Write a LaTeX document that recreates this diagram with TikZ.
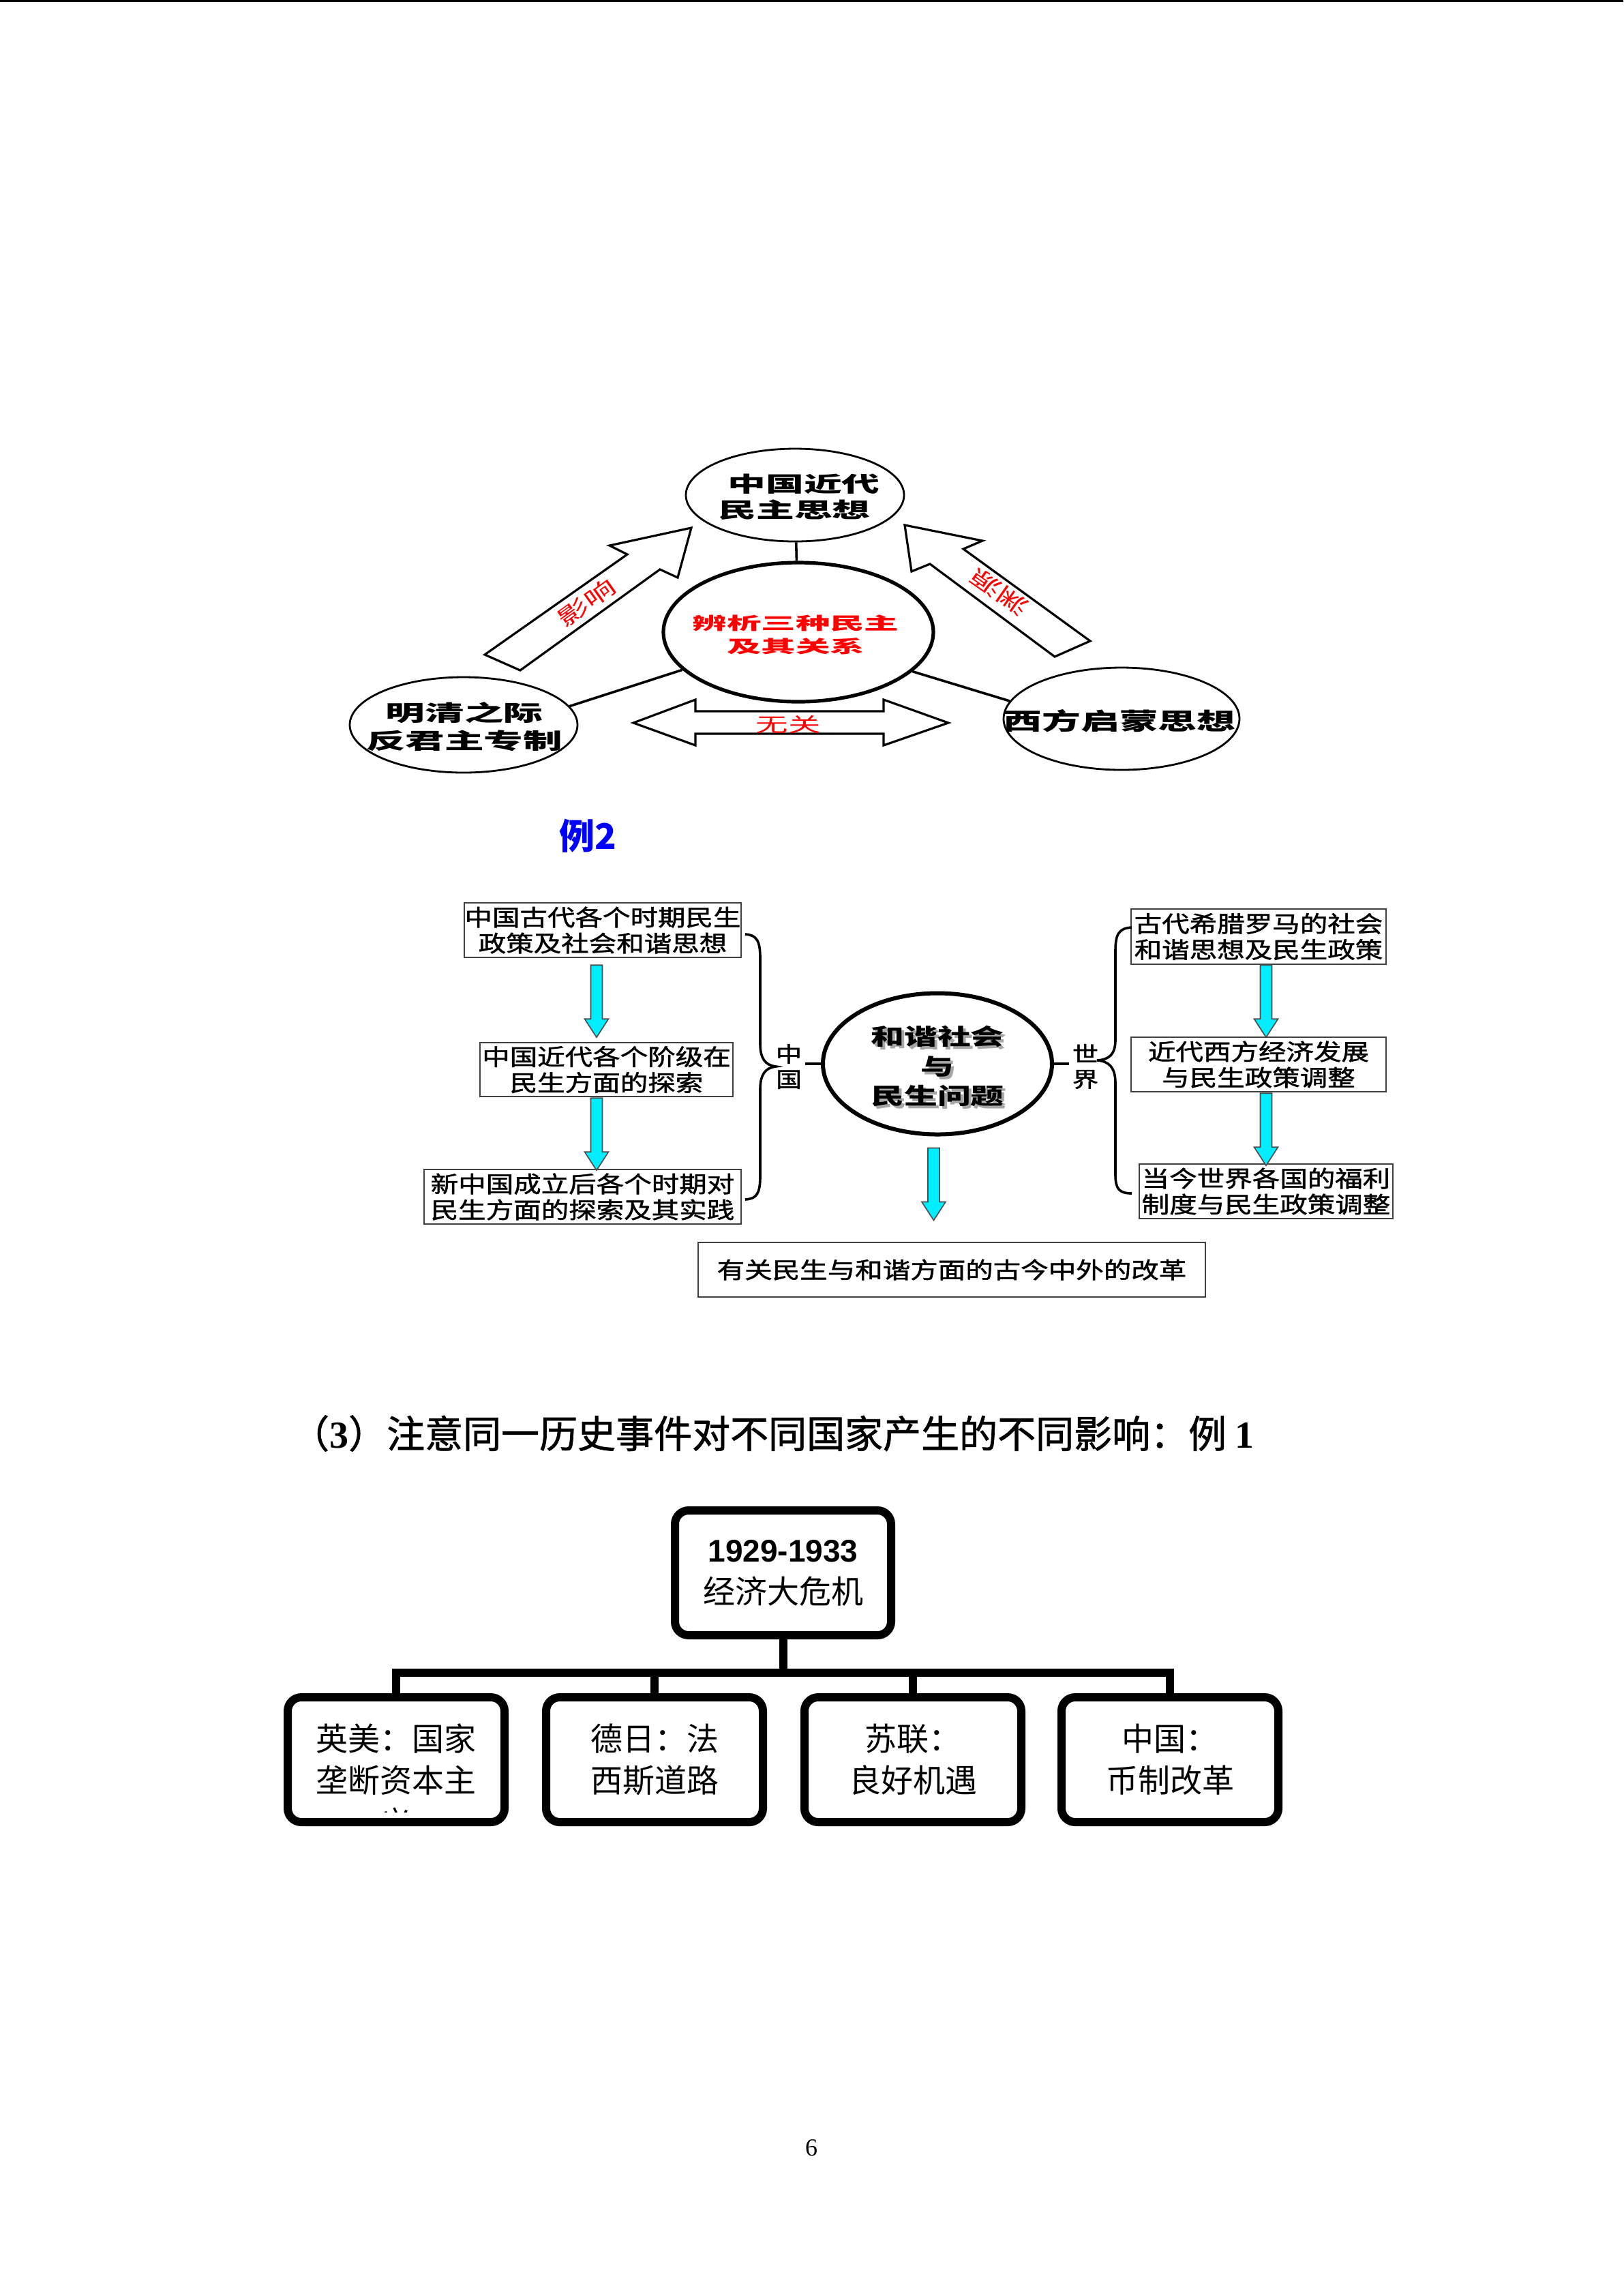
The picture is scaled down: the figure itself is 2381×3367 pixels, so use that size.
\documentclass[tikz,border=0pt]{standalone}
\usepackage{fontspec}
\setmainfont{Liberation Serif}
\setsansfont{Liberation Sans}
\newfontfamily\cjk{Noto Sans CJK SC}
\newfontfamily\cjkhd{Noto Sans CJK SC}[FakeBold=1.2]
\newfontfamily\hwa{Noto Sans CJK SC}[FakeStretch=1.8]
\newfontfamily\hwb{Noto Sans CJK SC}[FakeStretch=2.0]
\newfontfamily\hwc{Noto Sans CJK SC}[FakeStretch=1.65]
\newfontfamily\swa{Noto Sans CJK SC}[FakeStretch=1.22,FakeBold=1.5]
\newfontfamily\swb{Noto Sans CJK SC}[FakeStretch=1.48]
\usetikzlibrary{shapes.geometric,calc}
\definecolor{cyarr}{RGB}{0,238,255}
\begin{document}
\begin{tikzpicture}[x=0.25pt,y=-0.25pt,
  elp/.style={draw,ellipse,inner sep=0pt,line width=0.7pt},
  cline/.style={line width=0.9pt},
  barr/.style={draw,fill=white,line width=0.8pt,line join=miter},
  sbox/.style={draw=black!75,line width=0.6pt,inner sep=0pt,align=center,font=\swa\fontsize{8.3pt}{9.5pt}\selectfont},
  hxt/.style={align=center,font=\swb\bfseries\fontsize{8.25pt}{10.9pt}\selectfont},
  rbox/.style={draw,line width=3pt,rounded corners=5pt,inner sep=0pt,minimum width=79.5pt,minimum height=45.75pt,align=center,font=\cjk\fontsize{11.75pt}{15.25pt}\selectfont},
  tline/.style={line width=3pt},
  cyarrow/.pic={\draw[fill=cyarr,draw=black!70,line width=0.4pt] (-8.5,0) -- (8.5,0) -- (8.5,79) -- (17.5,79) -- (0,106) -- (-17.5,79) -- (-8.5,79) -- cycle;}]
\fill[white] (0,0) rectangle (2381,3367);
\useasboundingbox (0,0) rectangle (2381,3367);
\draw[line width=0.85pt] (0,1.7) -- (2381,1.7);

\draw[barr] (711,960) -- (920,813) -- (894,800) -- (1014,774) -- (994,847) -- (968,835) -- (763,983) -- cycle;
\draw[barr] (1327,770) -- (1441,793) -- (1413,805) -- (1599,940) -- (1547,963) -- (1364,827) -- (1337,838) -- cycle;
\draw[barr] (929,1060) -- (1020,1026) -- (1020,1043) -- (1296,1043) -- (1296,1026) -- (1391,1060) -- (1296,1093) -- (1296,1076) -- (1020,1076) -- (1020,1093) -- cycle;
\node[elp,minimum width=80pt,minimum height=34pt] (tp) at (1166,726) {};
\node[elp,line width=1.3pt,minimum width=99pt,minimum height=51pt] (bx) at (1171,927) {};
\node[elp,minimum width=83.5pt,minimum height=35pt] (mq) at (680,1063) {};
\node[elp,minimum width=86.5pt,minimum height=37.5pt] (xf) at (1645,1054) {};
\draw[cline] (tp) -- (bx);
\draw[cline] (mq.10) -- (bx.198);
\draw[cline] (xf.171) -- (bx.341);
\node[align=center,font=\hwa\bfseries\fontsize{7.75pt}{9.5pt}\selectfont] (tpt) at (1165,729) {\hspace*{7pt}中国近代\\民主思想};
\node[align=center,text=red,font=\hwb\bfseries\fontsize{6.3pt}{8.5pt}\selectfont] (bxt) at (1167,931) {辨析三种民主\\及其关系};
\node[align=center,font=\hwa\bfseries\fontsize{8pt}{10.25pt}\selectfont] (mqt) at (681,1066) {明清之际\\反君主专制};
\node[font=\hwc\bfseries\fontsize{8.6pt}{10pt}\selectfont] (xft) at (1642,1057) {西方启蒙思想};
\node[text=red,inner sep=0pt,rotate=35.6,font=\swb\fontsize{8pt}{8pt}\selectfont] (yx) at (860,884) {影响};
\node[text=red,inner sep=0pt,rotate=145,font=\swb\fontsize{8pt}{8pt}\selectfont] (yy) at (1466,868) {渊源};
\node[text=red,font=\hwc\fontsize{7.2pt}{8pt}\selectfont] (wg) at (1156,1063) {无关};

\node[text=blue,font=\cjk\bfseries\fontsize{13pt}{14pt}\selectfont] (li) at (862,1226) {例2};
\node[sbox,minimum width=101.5pt,minimum height=20pt] (l1) at (884,1364) {中国古代各个时期民生\\政策及社会和谐思想};
\node[sbox,minimum width=92.75pt,minimum height=19.75pt] (l2) at (889.5,1568.5) {中国近代各个阶级在\\民生方面的探索};
\node[sbox,minimum width=116.25pt,minimum height=20pt] (l3) at (854.5,1755) {新中国成立后各个时期对\\民生方面的探索及其实践};
\node[sbox,minimum width=93.5pt,minimum height=20.25pt] (r1) at (1846,1373.5) {古代希腊罗马的社会\\和谐思想及民生政策};
\node[sbox,minimum width=93.5pt,minimum height=20pt] (r2) at (1846,1561) {近代西方经济发展\\与民生政策调整};
\node[sbox,minimum width=93pt,minimum height=20pt] (r3) at (1857,1747) {当今世界各国的福利\\制度与民生政策调整};
\node[sbox,minimum width=186pt,minimum height=20pt] (gg) at (1396,1862) {有关民生与和谐方面的古今中外的改革};
\node[elp,line width=1.5pt,minimum width=84pt,minimum height=51.75pt] (hx) at (1375,1560) {};
\node[hxt,text=black!35] (hxs) at (1379,1567.5) {和谐社会\\与\\民生问题};
\node[hxt] (hxw) at (1375,1563.5) {和谐社会\\与\\民生问题};
\node[align=center,inner sep=1pt,font=\swa\fontsize{7.8pt}{9.25pt}\selectfont] (zg) at (1157,1564) {中\\国};
\node[align=center,inner sep=1pt,font=\swa\fontsize{7.8pt}{9.25pt}\selectfont] (sj) at (1592,1564) {世\\界};
\draw[cline] (hx.west) -- (hx.west -| zg.east);
\draw[cline] (hx.east) -- (hx.east -| sj.west);
\draw[cline] (1093,1370) .. controls (1110,1371) and (1115,1380) .. (1115,1405) -- (1115,1530) .. controls (1115,1552) and (1122,1562) .. (1138,1564) .. controls (1122,1566) and (1115,1576) .. (1115,1598) -- (1115,1725) .. controls (1115,1750) and (1110,1758) .. (1093,1759);
\draw[cline] (1660,1360) .. controls (1641,1361) and (1636,1370) .. (1636,1395) -- (1636,1525) .. controls (1636,1546) and (1627,1554) .. (1609,1555) .. controls (1627,1556) and (1636,1566) .. (1636,1588) -- (1636,1722) .. controls (1636,1743) and (1641,1750) .. (1660,1750);
\pic at ($(l1.south)+(-9,10)$) {cyarrow};
\pic at ($(l2.south)+(-14.5,1)$) {cyarrow};
\pic at ($(r1.south)+(11,0)$) {cyarrow};
\pic at ($(r2.south)+(11,1)$) {cyarrow};
\pic at ($(hx.south)+(-5.5,17)$) {cyarrow};

\node[anchor=west,font=\cjkhd\fontsize{14pt}{16pt}\selectfont] (hd) at (413,2102) {（{\rmfamily\bfseries 3}）注意同一历史事件对不同国家产生的不同影响：例 {\rmfamily\bfseries 1}};
\node[rbox,minimum width=79.25pt] (jj) at (1148.5,2306.5) {{\sffamily\bfseries\fontsize{11.5pt}{15.25pt}\selectfont 1929-1933}\\经济大危机};
\node[rbox] (y1) at (581,2580.5) {英美：国家\\垄断资本主};
\node[rbox] (y2) at (960,2580.5) {德日：法\\西斯道路};
\node[rbox] (y3) at (1339,2580.5) {苏联：\\良好机遇};
\node[rbox] (y4) at (1716,2580.5) {中国：\\币制改革};
\coordinate (bm) at (1148.5,2453);
\draw[tline] (jj.south) -- (bm);
\draw[tline] (y1.north) |- (bm) -| (y4.north);
\draw[tline] (y2.north) -- (y2.north |- bm);
\draw[tline] (y3.north) -- (y3.north |- bm);
\begin{scope}
\clip (430,2600) rectangle (730,2657);
\node[font=\cjk\fontsize{11.75pt}{15pt}\selectfont] (yi) at (581,2672) {义};
\end{scope}
\node[font=\fontsize{9pt}{10pt}\selectfont] (pg) at (1190,3150) {6};
\end{tikzpicture}
\end{document}
